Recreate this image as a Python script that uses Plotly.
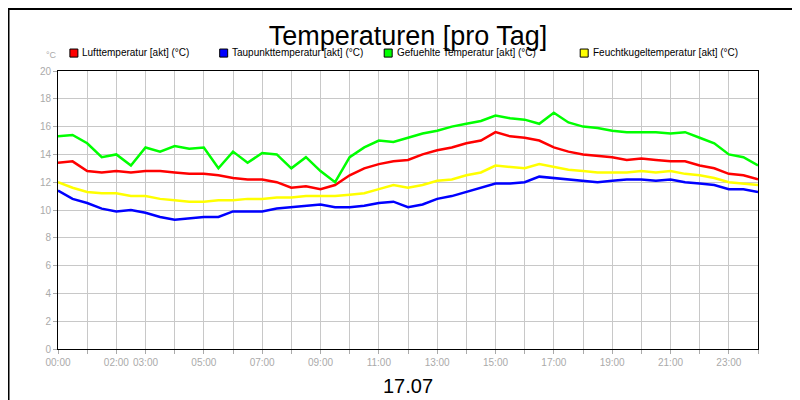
import plotly.graph_objects as go

# half-hour steps, 00:00 .. 24:00
hours = [i * 0.5 for i in range(49)]

luft = [13.4, 13.5, 12.8, 12.7, 12.8, 12.7, 12.8, 12.8, 12.7, 12.6, 12.6, 12.5, 12.3, 12.2, 12.2, 12.0,
        11.6, 11.7, 11.5, 11.8, 12.5, 13.0, 13.3, 13.5, 13.6, 14.0, 14.3, 14.5, 14.8, 15.0, 15.6, 15.3,
        15.2, 15.0, 14.5, 14.2, 14.0, 13.9, 13.8, 13.6, 13.7, 13.6, 13.5, 13.5, 13.2, 13.0, 12.6, 12.5, 12.2]
taupunkt = [11.4, 10.8, 10.5, 10.1, 9.9, 10.0, 9.8, 9.5, 9.3, 9.4, 9.5, 9.5, 9.9, 9.9, 9.9, 10.1,
            10.2, 10.3, 10.4, 10.2, 10.2, 10.3, 10.5, 10.6, 10.2, 10.4, 10.8, 11.0, 11.3, 11.6, 11.9, 11.9,
            12.0, 12.4, 12.3, 12.2, 12.1, 12.0, 12.1, 12.2, 12.2, 12.1, 12.2, 12.0, 11.9, 11.8, 11.5, 11.5, 11.3]
gefuehlt = [15.3, 15.4, 14.8, 13.8, 14.0, 13.2, 14.5, 14.2, 14.6, 14.4, 14.5, 13.0, 14.2, 13.4, 14.1, 14.0,
            13.0, 13.8, 12.8, 12.0, 13.8, 14.5, 15.0, 14.9, 15.2, 15.5, 15.7, 16.0, 16.2, 16.4, 16.8, 16.6,
            16.5, 16.2, 17.0, 16.3, 16.0, 15.9, 15.7, 15.6, 15.6, 15.6, 15.5, 15.6, 15.2, 14.8, 14.0, 13.8, 13.2]
feuchtkugel = [12.0, 11.6, 11.3, 11.2, 11.2, 11.0, 11.0, 10.8, 10.7, 10.6, 10.6, 10.7, 10.7, 10.8, 10.8, 10.9,
               10.9, 11.0, 11.0, 11.0, 11.1, 11.2, 11.5, 11.8, 11.6, 11.8, 12.1, 12.2, 12.5, 12.7, 13.2, 13.1,
               13.0, 13.3, 13.1, 12.9, 12.8, 12.7, 12.7, 12.7, 12.8, 12.7, 12.8, 12.6, 12.5, 12.3, 12.0, 11.9, 11.8]

names = ["Lufttemperatur [akt] (°C)", "Taupunkttemperatur [akt] (°C)",
         "Gefuehlte Temperatur [akt] (°C)", "Feuchtkugeltemperatur [akt] (°C)"]
colors = ["#ff0000", "#0000ff", "#00ff00", "#ffff00"]
series = [luft, taupunkt, gefuehlt, feuchtkugel]

tick_hours = [0, 2, 3, 5, 7, 9, 11, 13, 15, 17, 19, 21, 23]
tick_text = ["%02d:00" % h for h in tick_hours]

fig = go.Figure()
for s, n, c in zip(series, names, colors):
    fig.add_trace(go.Scatter(x=hours, y=s, name=n, mode="lines",
                             line=dict(color=c, width=2.5), showlegend=False))

# hand-made legend with square swatches (paper coords = plot area)
leg_x = [0.017, 0.231, 0.466, 0.746]
for lx, n, c in zip(leg_x, names, colors):
    fig.add_shape(type="rect", xref="paper", yref="paper", x0=lx, x1=lx + 0.0114,
                  y0=1.05, y1=1.079, fillcolor=c, line=dict(color="black", width=1))
    fig.add_annotation(text=n, xref="paper", yref="paper", x=lx + 0.015, y=1.065,
                       xanchor="left", yanchor="middle", showarrow=False,
                       font=dict(size=10, color="black"))
fig.add_annotation(text="°C", xref="paper", yref="paper", x=-0.02, y=1.058,
                   xanchor="left", yanchor="middle", showarrow=False,
                   font=dict(size=9, color="#aaaaaa"))
fig.add_annotation(text="17.07", xref="paper", yref="paper", x=0.5, y=-0.133,
                   yanchor="middle", showarrow=False, font=dict(size=20, color="black"))
# outer frame
fig.add_shape(type="rect", xref="paper", yref="paper", x0=-0.0707, x1=1.0707, y0=-0.208, y1=1.223,
              line=dict(color="black", width=2))

fig.update_layout(
    width=800, height=400,
    margin=dict(l=50, r=50, t=63, b=59),
    paper_bgcolor="white", plot_bgcolor="white",
    font=dict(family="Liberation Sans, Arial, sans-serif"),
    title=dict(text="Temperaturen [pro Tag]", x=0.5, xanchor="center", y=0.955,
               font=dict(size=27, color="black")),
    xaxis=dict(range=[0, 24], tickvals=tick_hours, ticktext=tick_text, automargin=False,
               showgrid=False, showline=True, linecolor="black", mirror=True,
               ticks="outside", ticklen=4, tickcolor="#aaaaaa",
               tickfont=dict(size=10, color="#aaaaaa"),
               minor=dict(dtick=1, showgrid=True, gridcolor="#c8c8c8", ticks="outside",
                          ticklen=4, tickcolor="#aaaaaa")),
    yaxis=dict(range=[0, 20], dtick=2, showgrid=True, gridcolor="#c8c8c8", automargin=False,
               showline=True, linecolor="black", mirror=True, zeroline=False,
               ticks="outside", ticklen=4, tickcolor="#aaaaaa",
               tickfont=dict(size=10, color="#aaaaaa")),
)

fig.write_html("out.html")
